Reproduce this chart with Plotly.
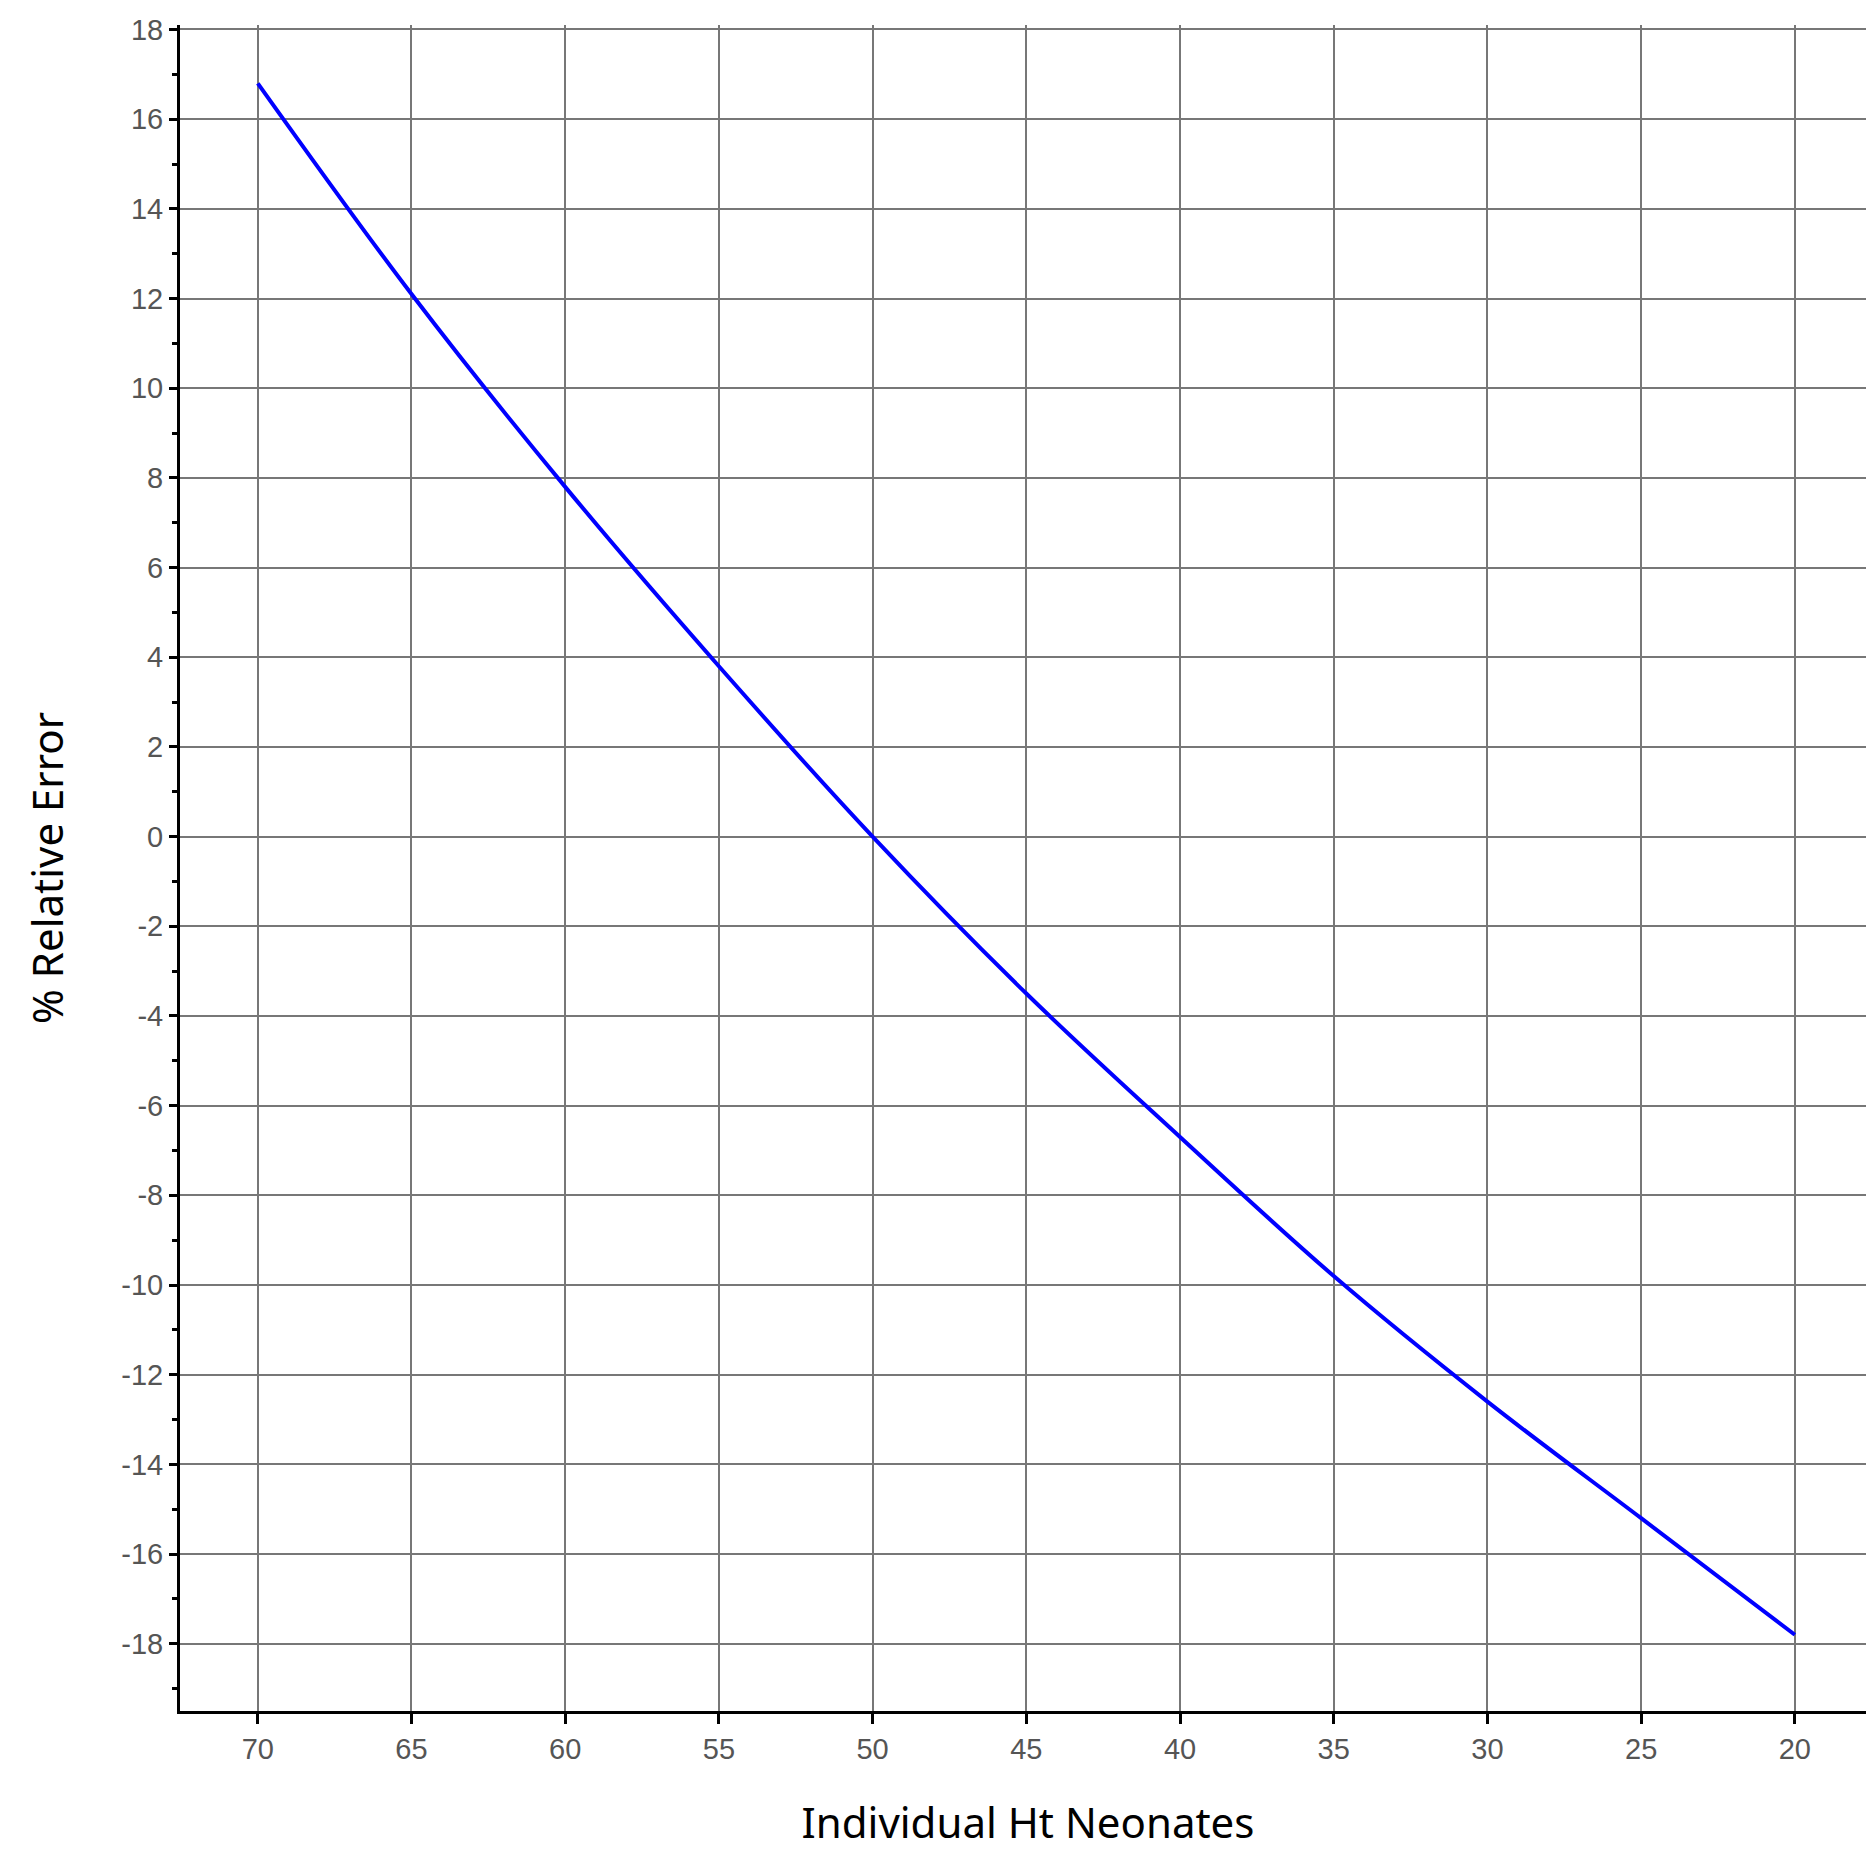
import plotly.graph_objects as go

# Individual hematocrit vs % relative error
ht = [70, 65, 60, 55, 50, 45, 40, 35, 30, 25, 20]
rel_error = [16.8, 12.1, 7.8, 3.8, 0.0, -3.5, -6.7, -9.8, -12.6, -15.2, -17.8]

x_ticks = [70, 65, 60, 55, 50, 45, 40, 35, 30, 25, 20]
y_ticks = list(range(-18, 19, 2))
y_labels = [str(v) for v in y_ticks]  # plain hyphen minus like the original

fig = go.Figure(go.Scatter(x=ht, y=rel_error, mode="lines",
                           line=dict(color="#0000ff", width=4, shape="spline"),
                           showlegend=False))

fig.update_layout(
    width=1874, height=1860,
    margin=dict(l=172, r=6, t=12, b=157),
    plot_bgcolor="white", paper_bgcolor="white",
    font=dict(family="Liberation Sans, Arial", color="#555555", size=29),
)
fig.update_xaxes(
    range=[72.53, 17.36], tickvals=x_ticks, ticks="outside", ticklen=10, tickwidth=3,
    tickcolor="black", showline=True, linecolor="black", linewidth=3,
    showgrid=True, gridcolor="#777777", gridwidth=1.5, zeroline=False,
    title=dict(text="Individual Ht Neonates", font=dict(size=42, color="black",
               family="Noto Sans, Open Sans"), standoff=45),
)
fig.update_yaxes(
    range=[-19.5, 18.1], tickvals=y_ticks, ticktext=y_labels, ticks="outside",
    ticklen=8, tickwidth=3,
    tickcolor="black", showline=True, linecolor="black", linewidth=3,
    showgrid=True, gridcolor="#777777", gridwidth=1.5, zeroline=False,
    minor=dict(dtick=1, ticks="outside", ticklen=5, tickcolor="black", showgrid=False),
    title=dict(text="% Relative Error", font=dict(size=42, color="black",
               family="Noto Sans, Open Sans"), standoff=45),
)

fig.write_html("out.html")
